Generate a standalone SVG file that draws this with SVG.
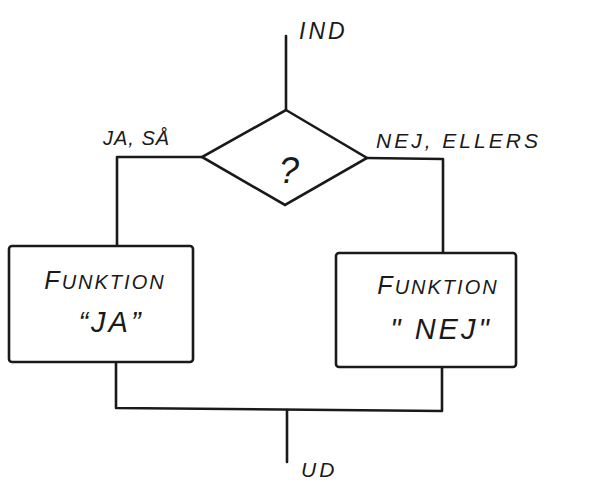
<svg xmlns="http://www.w3.org/2000/svg" width="591" height="482" viewBox="0 0 591 482">
<style>
.ln{fill:none;stroke:#1a1a1a;stroke-width:2.6;stroke-linejoin:round;stroke-linecap:round}
.bx{fill:#fff;stroke:#1a1a1a;stroke-width:2.6}
.t{font-family:"Liberation Sans",Arial,sans-serif;font-style:italic;fill:#1a1a1a}
.fn{font-size:25px;letter-spacing:2px}
.fs{font-size:20px}
.q{font-size:29px;letter-spacing:3px}
</style>
<rect width="591" height="482" fill="#fff"/>
<g id="connectors">
<path class="ln" d="M286,36 L286,110"/>
<path class="ln" d="M202,157 L117,157 L117,246"/>
<path class="ln" d="M367,158 L443,159 L443,253"/>
<path class="ln" d="M116,362 L116,408 L442,411 L442,367"/>
<path class="ln" d="M287,410 L287,462"/>
</g>
<g id="ind"><text class="t" x="299" y="39" font-size="23" letter-spacing="3">IND</text></g>
<g id="ud"><text class="t" x="301" y="477" font-size="21" letter-spacing="3">UD</text></g>
<g id="decision">
<path class="bx" d="M286,110 L367,158 L285,205 L202,157 Z"/>
<text class="t" x="289" y="183" font-size="36" text-anchor="middle">?</text>
</g>
<g id="label-ja"><text class="t" x="103" y="145" font-size="20" letter-spacing="1">JA, SÅ</text></g>
<g id="label-nej"><text class="t" x="376" y="148" font-size="21" letter-spacing="3">NEJ, ELLERS</text></g>
<g id="box-ja">
<rect class="bx" x="9" y="246" width="184" height="116" rx="3"/>
<text class="t fn" x="105" y="289" text-anchor="middle">F<tspan class="fs">UNKTION</tspan></text>
<text class="t q" x="111" y="332" text-anchor="middle">“JA”</text>
</g>
<g id="box-nej">
<rect class="bx" x="336" y="253" width="180" height="114" rx="3"/>
<text class="t fn" x="438" y="294" text-anchor="middle">F<tspan class="fs">UNKTION</tspan></text>
<text class="t q" x="441" y="339" text-anchor="middle">" NEJ"</text>
</g>
</svg>
